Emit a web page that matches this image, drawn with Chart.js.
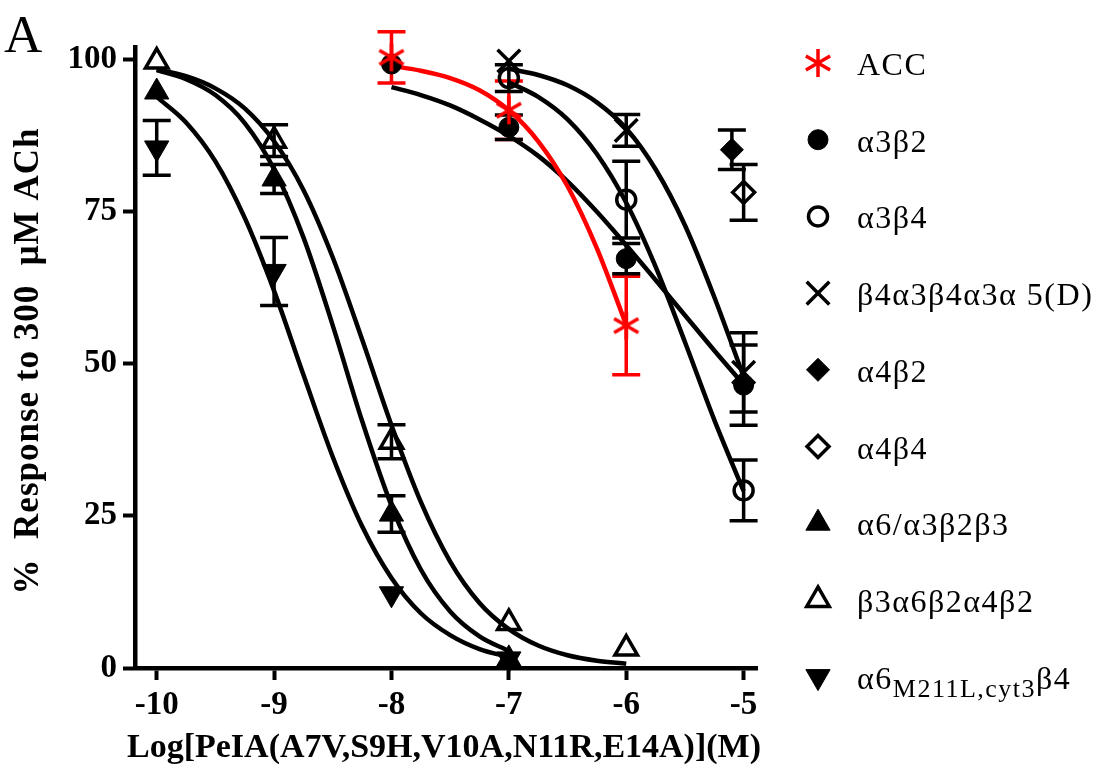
<!DOCTYPE html>
<html>
<head>
<meta charset="utf-8">
<title>PeIA analogue inhibition of nAChR subtypes</title>
<script src="https://cdn.jsdelivr.net/npm/chart.js@4.4.1/dist/chart.umd.min.js"></script>
<style>
  html, body { margin: 0; padding: 0; background: #ffffff; }
  #wrap { width: 1112px; height: 772px; }
</style>
</head>
<body>
<div id="wrap"><canvas id="crc" width="1112" height="772"></canvas></div>
<script>
// axis ticks
const xTicks = [-10, -9, -8, -7, -6, -5];
const yTicks = [0, 25, 50, 75, 100];

// text
const panelLabel = "A";
const xTitle = "Log[PeIA(A7V,S9H,V10A,N11R,E14A)](M)";
const yTitle = "%  Response to 300  \u03bcM ACh";
const seriesNames = [
  "ACC", "α3β2", "α3β4", "β4α3β4α3α 5(D)", "α4β2", "α4β4",
  "α6/α3β2β3", "β3α6β2α4β2", "α6_{M211L,cyt3}β4"
];

// measured responses (mean, SEM) per receptor
const accLogC = [-8, -7, -6];
const accResp = [100.4, 91.7, 56.3];
const accSem  = [4.2, 4.8, 8.1];

const a3b2LogC = [-8, -7, -6, -5];
const a3b2Resp = [99.3, 88.9, 67.3, 46.5];
const a3b2Sem  = [0, 2.0, 2.5, 6.6];

const a3b4LogC = [-7, -6, -5];
const a3b4Resp = [97.0, 77.0, 29.2];
const a3b4Sem  = [2.2, 6.3, 5.0];

const b4a3a5LogC = [-7, -6, -5];
const b4a3a5Resp = [99.8, 88.4, 48.6];
const b4a3a5Sem  = [0, 2.6, 6.5];

const a4b2LogC = [-5.1];
const a4b2Resp = [85.2];
const a4b2Sem  = [3.25];

const a4b4LogC = [-5];
const a4b4Resp = [78.2];
const a4b4Sem  = [4.6];

const a6a3LogC = [-10, -9, -8, -7];
const a6a3Resp = [94.7, 80.4, 25.3, 1.5];
const a6a3Sem  = [0, 2.4, 3.0, 0];

const b3a6LogC = [-10, -9, -8, -7, -6];
const b3a6Resp = [99.7, 86.7, 37.2, 7.4, 3.2];
const b3a6Sem  = [0, 2.6, 2.8, 0, 0];

const a6cytLogC = [-10, -9, -8, -7];
const a6cytResp = [85.5, 65.2, 12.2, 1.5];
const a6cytSem  = [4.5, 5.6, 0, 0];

// fitted concentration-response curves
const fitLogC_a = [-10, -9.75, -9.5, -9.25, -9, -8.75, -8.5, -8.25, -8, -7.75, -7.5, -7.25, -7];
const fitLogC_b = [-10, -9.75, -9.5, -9.25, -9, -8.75, -8.5, -8.25, -8, -7.75, -7.5, -7.25, -7, -6.75, -6.5, -6.25, -6];
const fitLogC_c = [-8, -7.75, -7.5, -7.25, -7, -6.75, -6.5, -6.25, -6];
const fitLogC_d = [-8, -7.75, -7.5, -7.25, -7, -6.75, -6.5, -6.25, -6, -5.75, -5.5, -5.25, -5];
const fitLogC_e = [-7, -6.75, -6.5, -6.25, -6, -5.75, -5.5, -5.25, -5];

const fitA6cyt = [93.9, 89.7, 83.3, 74.0, 62.0, 48.2, 34.7, 23.3, 14.8, 9.0, 5.4, 3.1, 1.8];
const fitA6a3  = [98.3, 96.8, 94.2, 89.6, 82.0, 70.8, 56.3, 40.6, 26.7, 16.2, 9.3, 5.2, 2.8];
const fitB3a6  = [98.4, 97.3, 95.3, 92.0, 86.6, 78.6, 67.5, 54.0, 39.9, 27.3, 17.5, 10.7, 6.4, 3.7, 2.1, 1.2, 0.7];
const fitAcc   = [99.0, 98.2, 97.0, 95.0, 91.7, 86.6, 79.2, 69.0, 56.4];
const fitA3b2  = [95.5, 94.2, 92.5, 90.2, 87.5, 84.2, 80.0, 75.0, 69.5, 63.8, 58.0, 52.2, 46.6];
const fitA3b4  = [96.3, 93.9, 90.2, 84.5, 76.5, 66.0, 53.6, 40.8, 29.1];
const fitB4a3a5 = [98.5, 97.5, 95.8, 93.0, 88.7, 82.0, 72.8, 61.0, 47.9];

const RED = "#ff0000";
const BLACK = "#000000";
const SERIF = '"Liberation Serif", "Times New Roman", serif';

// six-armed asterisk used for the ACC symbol
function makeAsterisk(size, color, lw) {
  const c = document.createElement("canvas");
  c.width = size;
  c.height = size;
  const g = c.getContext("2d");
  const r = size / 2 - 1;
  g.translate(size / 2, size / 2);
  g.strokeStyle = color;
  g.lineWidth = lw;
  for (let k = 0; k < 3; k++) {
    const a = Math.PI / 2 + k * Math.PI / 3;
    g.beginPath();
    g.moveTo(Math.cos(a) * r, Math.sin(a) * r);
    g.lineTo(-Math.cos(a) * r, -Math.sin(a) * r);
    g.stroke();
  }
  return c;
}
const asterisk = makeAsterisk(30, RED, 3.5);

const pts = (xs, ys) => xs.map((x, i) => ({ x: x, y: ys[i] }));

function curve(xs, ys, color, order) {
  return {
    data: pts(xs, ys),
    showLine: true,
    borderColor: color,
    borderWidth: 4.5,
    pointRadius: 0,
    pointHoverRadius: 0,
    cubicInterpolationMode: "monotone",
    fill: false,
    clip: false,
    order: order
  };
}

function markers(label, xs, ys, sems, style) {
  return Object.assign({
    label: label,
    data: pts(xs, ys),
    sem: sems,
    showLine: false,
    clip: false,
    order: 2,
    errColor: BLACK,
    pointBorderColor: BLACK,
    pointBackgroundColor: BLACK,
    pointBorderWidth: 1,
    pointRotation: 0
  }, style);
}

const open = "rgba(0,0,0,0)";

const markerSets = [
  markers(seriesNames[0], accLogC, accResp, accSem, { pointStyle: asterisk, pointRadius: 15, errColor: RED, order: 1 }),
  markers(seriesNames[1], a3b2LogC, a3b2Resp, a3b2Sem, { pointStyle: "circle", pointRadius: 10 }),
  markers(seriesNames[2], a3b4LogC, a3b4Resp, a3b4Sem, { pointStyle: "circle", pointRadius: 9.5, pointBorderWidth: 3.5, pointBackgroundColor: open }),
  markers(seriesNames[3], b4a3a5LogC, b4a3a5Resp, b4a3a5Sem, { pointStyle: "crossRot", pointRadius: 16, pointBorderWidth: 3.5 }),
  markers(seriesNames[4], a4b2LogC, a4b2Resp, a4b2Sem, { pointStyle: "rectRot", pointRadius: 11.5 }),
  markers(seriesNames[5], a4b4LogC, a4b4Resp, a4b4Sem, { pointStyle: "rectRot", pointRadius: 11, pointBorderWidth: 3.5, pointBackgroundColor: open }),
  markers(seriesNames[6], a6a3LogC, a6a3Resp, a6a3Sem, { pointStyle: "triangle", pointRadius: 14 }),
  markers(seriesNames[7], b3a6LogC, b3a6Resp, b3a6Sem, { pointStyle: "triangle", pointRadius: 13, pointBorderWidth: 3.5, pointBackgroundColor: open }),
  markers(seriesNames[8], a6cytLogC, a6cytResp, a6cytSem, { pointStyle: "triangle", pointRadius: 14, pointRotation: 180 })
];

const curveSets = [
  curve(fitLogC_a, fitA6cyt, BLACK, 4),
  curve(fitLogC_a, fitA6a3, BLACK, 4),
  curve(fitLogC_b, fitB3a6, BLACK, 4),
  curve(fitLogC_d, fitA3b2, BLACK, 4),
  curve(fitLogC_e, fitA3b4, BLACK, 4),
  curve(fitLogC_e, fitB4a3a5, BLACK, 4),
  curve(fitLogC_c, fitAcc, RED, 3)
];

// vertical SEM bars with caps, under the symbols
const errorBars = {
  id: "errorBars",
  beforeDatasetsDraw(chart) {
    const ctx = chart.ctx;
    const xs = chart.scales.x, ys = chart.scales.y;
    chart.data.datasets.forEach(ds => {
      if (!ds.sem) return;
      ctx.save();
      ctx.strokeStyle = ds.errColor;
      ctx.lineWidth = 3.5;
      ds.data.forEach((p, i) => {
        const s = ds.sem[i];
        if (!s) return;
        const px = xs.getPixelForValue(p.x);
        const top = ys.getPixelForValue(p.y + s);
        const bot = ys.getPixelForValue(p.y - s);
        ctx.beginPath();
        ctx.moveTo(px, top); ctx.lineTo(px, bot);
        ctx.moveTo(px - 14, top); ctx.lineTo(px + 14, top);
        ctx.moveTo(px - 14, bot); ctx.lineTo(px + 14, bot);
        ctx.stroke();
      });
      ctx.restore();
    });
  }
};

// panel letter, axis titles and the symbol key on the right
const annotations = {
  id: "annotations",
  afterDraw(chart) {
    const ctx = chart.ctx;
    const area = chart.chartArea;
    ctx.save();
    ctx.fillStyle = BLACK;
    ctx.textBaseline = "alphabetic";

    ctx.font = "53px " + SERIF;
    ctx.textAlign = "left";
    ctx.fillText(panelLabel, 4, 52);

    ctx.font = "bold 34px " + SERIF;
    ctx.textAlign = "center";
    ctx.fillText(xTitle, 444, 757);

    ctx.save();
    ctx.font = "bold 35px " + SERIF;
    ctx.letterSpacing = "1px";
    ctx.translate(38, 361);
    ctx.rotate(-Math.PI / 2);
    ctx.fillText(yTitle, 0, 0);
    ctx.restore();

    const mx = area.right + 61;
    const tx = area.right + 100;
    chart.data.datasets.filter(ds => ds.sem).forEach((ds, row) => {
      const y = 63 + row * 76.7;
      ctx.save();
      ctx.fillStyle = ds.pointBackgroundColor;
      ctx.strokeStyle = ds.pointBorderColor;
      ctx.lineWidth = ds.pointBorderWidth;
      Chart.helpers.drawPoint(ctx, {
        pointStyle: ds.pointStyle,
        rotation: ds.pointRotation,
        radius: ds.pointRadius,
        borderWidth: ds.pointBorderWidth
      }, mx, y);
      ctx.restore();

      // label, with _{...} set as subscript
      const parts = ds.label.split(/_\{([^}]*)\}/);
      let x = tx;
      ctx.save();
      ctx.textAlign = "left";
      ctx.letterSpacing = "1.5px";
      parts.forEach((txt, k) => {
        const sub = k % 2 === 1;
        ctx.font = (sub ? "26px " : "32px ") + SERIF;
        ctx.fillText(txt, x, y + 12 + (sub ? 8 : 0));
        x += ctx.measureText(txt).width;
      });
      ctx.restore();
    });
    ctx.restore();
  }
};

const tickFont = { family: SERIF, size: 33, weight: "bold" };

new Chart(document.getElementById("crc"), {
  type: "scatter",
  data: { datasets: markerSets.concat(curveSets) },
  options: {
    responsive: false,
    animation: false,
    devicePixelRatio: 1,
    events: [],
    layout: { padding: { top: 47, right: 355, bottom: 0, left: 0 } },
    plugins: {
      legend: { display: false },
      tooltip: { enabled: false }
    },
    scales: {
      x: {
        type: "linear",
        position: "bottom",
        min: -10.185,
        max: -4.886,
        afterBuildTicks: s => { s.ticks = xTicks.map(v => ({ value: v })); },
        afterFit: s => { s.height = 104; },
        grid: { display: true, drawOnChartArea: false, drawTicks: true, tickLength: 12, tickWidth: 4, tickColor: BLACK },
        border: { display: true, color: BLACK, width: 4.5 },
        ticks: { color: BLACK, font: tickFont, padding: 6, maxRotation: 0, autoSkip: false, callback: v => String(v) }
      },
      y: {
        type: "linear",
        position: "left",
        min: 0,
        max: 102.1,
        afterBuildTicks: s => { s.ticks = yTicks.map(v => ({ value: v })); },
        afterFit: s => { s.width = 135; },
        grid: { display: true, drawOnChartArea: false, drawTicks: true, tickLength: 12, tickWidth: 4, tickColor: BLACK },
        border: { display: true, color: BLACK, width: 4.5 },
        ticks: { color: BLACK, font: tickFont, padding: 6, callback: v => String(v) }
      }
    }
  },
  plugins: [errorBars, annotations]
});
</script>
</body>
</html>
